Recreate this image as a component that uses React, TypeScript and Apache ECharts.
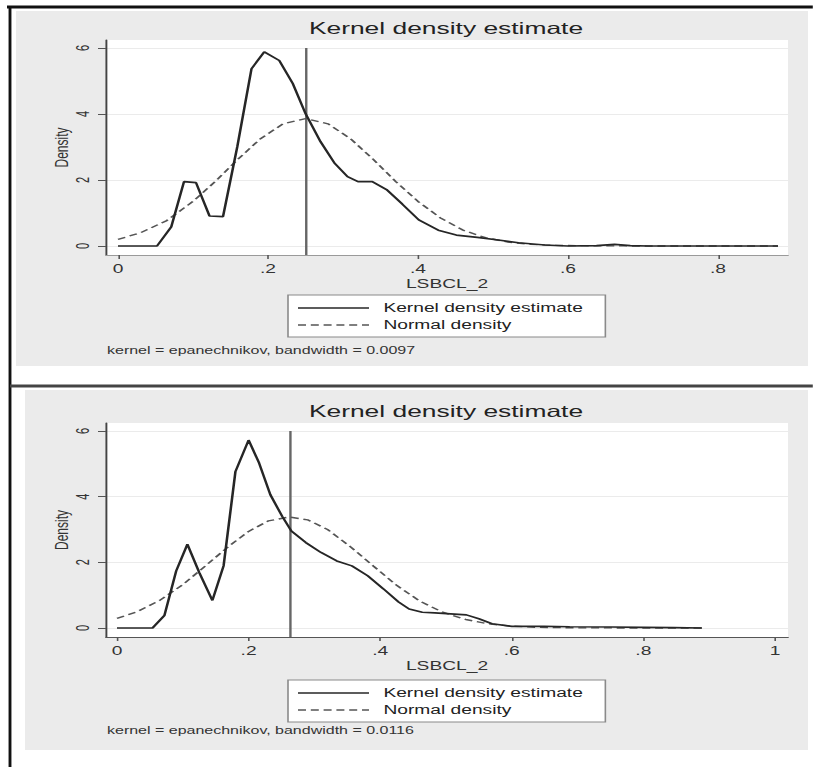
import React, { useEffect, useRef } from "react";
import * as echarts from "echarts";

// ---------------- data ----------------
const chartTitle = "Kernel density estimate";
const seriesNames = ["Kernel density estimate", "Normal density"];
const xAxisName = "LSBCL_2";
const yAxisName = "Density";

const yTicks = [0, 2, 4, 6];
const yTickLabels = ["0", "2", "4", "6"];
const topXTicks = [0, 0.2, 0.4, 0.6, 0.8];
const topXTickLabels = ["0", ".2", ".4", ".6", ".8"];
const bottomXTicks = [0, 0.2, 0.4, 0.6, 0.8, 1];
const bottomXTickLabels = ["0", ".2", ".4", ".6", ".8", "1"];

const topFootnote = "kernel = epanechnikov, bandwidth = 0.0097";
const bottomFootnote = "kernel = epanechnikov, bandwidth = 0.0116";

// top panel: kernel density estimate
const topKdeX = [0, 0.052, 0.071, 0.088, 0.104, 0.122, 0.14, 0.159, 0.178, 0.195, 0.215, 0.233, 0.25, 0.27, 0.289, 0.306, 0.32, 0.339, 0.358, 0.379, 0.401, 0.427, 0.451, 0.479, 0.507, 0.534, 0.569, 0.6, 0.638, 0.662, 0.683, 0.707, 0.88];
const topKdeY = [0, 0, 0.58, 1.95, 1.92, 0.91, 0.89, 3.0, 5.37, 5.88, 5.62, 4.92, 4.01, 3.16, 2.5, 2.1, 1.95, 1.95, 1.71, 1.27, 0.79, 0.48, 0.33, 0.26, 0.18, 0.1, 0.03, 0, 0.01, 0.05, 0.01, 0, 0];
// top panel: normal density
const topNormX = [0, 0.03, 0.065, 0.1, 0.13, 0.16, 0.19, 0.22, 0.25, 0.28, 0.31, 0.34, 0.37, 0.4, 0.43, 0.46, 0.49, 0.52, 0.55, 0.58, 0.62, 0.7, 0.88];
const topNormY = [0.2, 0.4, 0.77, 1.35, 1.96, 2.63, 3.25, 3.7, 3.86, 3.7, 3.25, 2.63, 1.96, 1.35, 0.85, 0.48, 0.25, 0.12, 0.05, 0.02, 0.01, 0, 0];
const topMean = 0.251;

// bottom panel: kernel density estimate
const bottomKdeX = [0, 0.054, 0.072, 0.09, 0.107, 0.125, 0.145, 0.162, 0.18, 0.2, 0.216, 0.233, 0.251, 0.265, 0.287, 0.31, 0.334, 0.357, 0.381, 0.405, 0.428, 0.444, 0.464, 0.483, 0.507, 0.531, 0.55, 0.57, 0.6, 0.649, 0.688, 0.75, 0.8, 0.846, 0.889];
const bottomKdeY = [0, 0, 0.38, 1.74, 2.55, 1.69, 0.84, 1.89, 4.76, 5.72, 5.02, 4.06, 3.4, 2.95, 2.6, 2.3, 2.04, 1.89, 1.59, 1.19, 0.79, 0.58, 0.48, 0.46, 0.43, 0.4, 0.28, 0.13, 0.05, 0.05, 0.04, 0.03, 0.02, 0.01, 0];
// bottom panel: normal density
const bottomNormX = [0, 0.03, 0.065, 0.1, 0.135, 0.17, 0.2, 0.23, 0.262, 0.29, 0.32, 0.355, 0.39, 0.425, 0.46, 0.495, 0.53, 0.565, 0.6, 0.64, 0.7, 0.8, 0.889];
const bottomNormY = [0.29, 0.49, 0.84, 1.32, 1.9, 2.49, 2.94, 3.26, 3.38, 3.29, 3.0, 2.47, 1.88, 1.3, 0.82, 0.48, 0.26, 0.125, 0.056, 0.02, 0.005, 0, 0];
const bottomMean = 0.2636;

// ---------------- layout ----------------
// the reference picture is horizontally stretched; draw narrow and stretch
const S = 1.6;
const PAGE_W = 813;
const PAGE_H = 767;
const W = PAGE_W / S;
const px = (x: number) => x / S;

const FONT = "'Liberation Sans', Arial, Helvetica, sans-serif";

const zip = (xs: number[], ys: number[]) => xs.map((x, i) => [x, ys[i]]);
const labelFor = (ticks: number[], labels: string[]) => (v: number) => {
  const i = ticks.findIndex((t) => Math.abs(t - v) < 1e-6);
  return i >= 0 ? labels[i] : "";
};

type Panel = {
  top: number;
  height: number;
  xMin: number;
  xMax: number;
  yMin: number;
  yMax: number;
  xTicks: number[];
  xTickLabels: string[];
  xAxisColor: string;
  kde: number[][];
  norm: number[][];
  mean: number;
  titleY: number;
  legendTop: number;
  footY: number;
};

const panels: Panel[] = [
  {
    top: 40, height: 215, xMin: -0.016, xMax: 0.8933, yMin: -0.273, yMax: 6.24,
    xTicks: topXTicks, xTickLabels: topXTickLabels, xAxisColor: "#9a9a9a",
    kde: zip(topKdeX, topKdeY), norm: zip(topNormX, topNormY), mean: topMean,
    titleY: 20, legendTop: 295, footY: 351,
  },
  {
    top: 423, height: 214, xMin: -0.0167, xMax: 1.0198, yMin: -0.274, yMax: 6.24,
    xTicks: bottomXTicks, xTickLabels: bottomXTickLabels, xAxisColor: "#555",
    kde: zip(bottomKdeX, bottomKdeY), norm: zip(bottomNormX, bottomNormY), mean: bottomMean,
    titleY: 403, legendTop: 680, footY: 731,
  },
];

const buildOption = () => {
  const grid: any[] = [];
  const xAxis: any[] = [];
  const yAxis: any[] = [];
  const series: any[] = [];
  const legend: any[] = [];
  const title: any[] = [];
  const footnotes = [topFootnote, bottomFootnote];

  panels.forEach((p, i) => {
    grid.push({ left: px(106), width: px(682), top: p.top, height: p.height, containLabel: false });
    xAxis.push({
      type: "value", gridIndex: i, min: p.xMin, max: p.xMax,
      name: xAxisName, nameLocation: "middle", nameGap: 23, nameMoveOverlap: false,
      nameTextStyle: { fontSize: 12, color: "#333", fontFamily: FONT },
      axisLine: { show: true, onZero: false, lineStyle: { color: p.xAxisColor, width: 1.2 } },
      axisTick: { show: true, length: 4, customValues: p.xTicks, lineStyle: { color: "#555" } },
      axisLabel: {
        show: true, customValues: p.xTicks, margin: 8, fontSize: 12, color: "#333", fontFamily: FONT,
        formatter: labelFor(p.xTicks, p.xTickLabels),
      },
      splitLine: { show: false },
    });
    yAxis.push({
      type: "value", gridIndex: i, min: p.yMin, max: p.yMax,
      name: yAxisName, nameLocation: "middle", nameGap: 22, nameMoveOverlap: false,
      nameTextStyle: { fontSize: 12, color: "#333", fontFamily: FONT },
      axisLine: { show: true, onZero: false, lineStyle: { color: "#444", width: 1.2 } },
      axisTick: { show: true, length: 5, customValues: yTicks, lineStyle: { color: "#555" } },
      axisLabel: {
        show: true, customValues: yTicks, rotate: 90, margin: 9, fontSize: 11, color: "#333", fontFamily: FONT,
        formatter: labelFor(yTicks, yTickLabels),
      },
      splitLine: { show: true, lineStyle: { color: "#ebebeb", width: 1 } },
    });
    series.push(
      {
        type: "line", name: "mean", xAxisIndex: i, yAxisIndex: i, silent: true,
        data: [[p.mean, p.yMin], [p.mean, 6]], symbol: "none",
        lineStyle: { color: "#666", width: 1.5 }, z: 1,
      },
      {
        type: "line", name: seriesNames[1], xAxisIndex: i, yAxisIndex: i, silent: true,
        data: p.norm, symbol: "none",
        lineStyle: { color: "#555", width: 1.4, type: [5, 3] }, z: 2,
      },
      {
        type: "line", name: seriesNames[0], xAxisIndex: i, yAxisIndex: i, silent: true,
        data: p.kde, symbol: "none",
        lineStyle: { color: "#262626", width: 1.6 }, z: 3,
      }
    );
    legend.push({
      data: seriesNames, orient: "vertical", left: px(288), top: p.legendTop,
      itemWidth: px(71), itemHeight: 14, itemGap: 3, padding: [6, 14, 5, 5.6],
      backgroundColor: "#fff", borderColor: "#8a8a8a", borderWidth: 1, borderRadius: 0,
      selectedMode: false,
      itemStyle: { opacity: 0, color: "transparent", borderWidth: 0 },
      lineStyle: { width: 1.3 },
      textStyle: { fontSize: 12, color: "#222", lineHeight: 14, fontFamily: FONT, padding: [0, 0, 0, 4] },
    });
    title.push({
      text: chartTitle, left: px(446), top: p.titleY, textAlign: "center", padding: 0,
      textStyle: { fontSize: 16.5, fontWeight: "normal", color: "#222", fontFamily: FONT },
    });
  });

  const graphicEls: any[] = [
    // panel backgrounds
    { type: "rect", z: -20, silent: true, shape: { x: px(16), y: 11, width: px(792), height: 355 }, style: { fill: "#ebebeb" } },
    { type: "rect", z: -20, silent: true, shape: { x: px(25), y: 390, width: px(783), height: 360 }, style: { fill: "#ebebeb" } },
    // plot regions
    { type: "rect", z: -19, silent: true, shape: { x: px(106), y: panels[0].top, width: px(682), height: panels[0].height }, style: { fill: "#fff" } },
    { type: "rect", z: -19, silent: true, shape: { x: px(106), y: panels[1].top, width: px(682), height: panels[1].height }, style: { fill: "#fff" } },
    // frame lines
    { type: "line", z: 20, silent: true, shape: { x1: px(7), y1: 7, x2: W, y2: 7 }, style: { stroke: "#111", lineWidth: 3 } },
    { type: "line", z: 20, silent: true, shape: { x1: px(10), y1: 6, x2: px(10), y2: PAGE_H }, style: { stroke: "#111", lineWidth: 1.8 } },
    { type: "line", z: 20, silent: true, shape: { x1: px(10), y1: 386, x2: W, y2: 386 }, style: { stroke: "#444", lineWidth: 3 } },
  ];
  panels.forEach((p, i) => {
    graphicEls.push({
      type: "text", z: 20, silent: true, x: px(107), y: p.footY,
      style: { text: footnotes[i], fontSize: 10, fill: "#333", fontFamily: FONT, align: "left", verticalAlign: "middle" },
    });
  });

  return {
    animation: false,
    backgroundColor: "transparent",
    textStyle: { fontFamily: FONT },
    title,
    legend,
    grid,
    xAxis,
    yAxis,
    series,
    graphic: { elements: graphicEls },
  };
};

export default function App() {
  const ref = useRef<HTMLDivElement>(null);
  useEffect(() => {
    if (!ref.current) return;
    const chart = echarts.init(ref.current, null, { renderer: "svg" });
    chart.setOption(buildOption() as any);
    return () => chart.dispose();
  }, []);
  return (
    <div style={{ position: "absolute", left: 0, top: 0, width: PAGE_W, height: PAGE_H, overflow: "hidden", background: "#fff" }}>
      <div
        ref={ref}
        style={{ width: W, height: PAGE_H, transform: `scaleX(${S})`, transformOrigin: "0 0" }}
      />
    </div>
  );
}
